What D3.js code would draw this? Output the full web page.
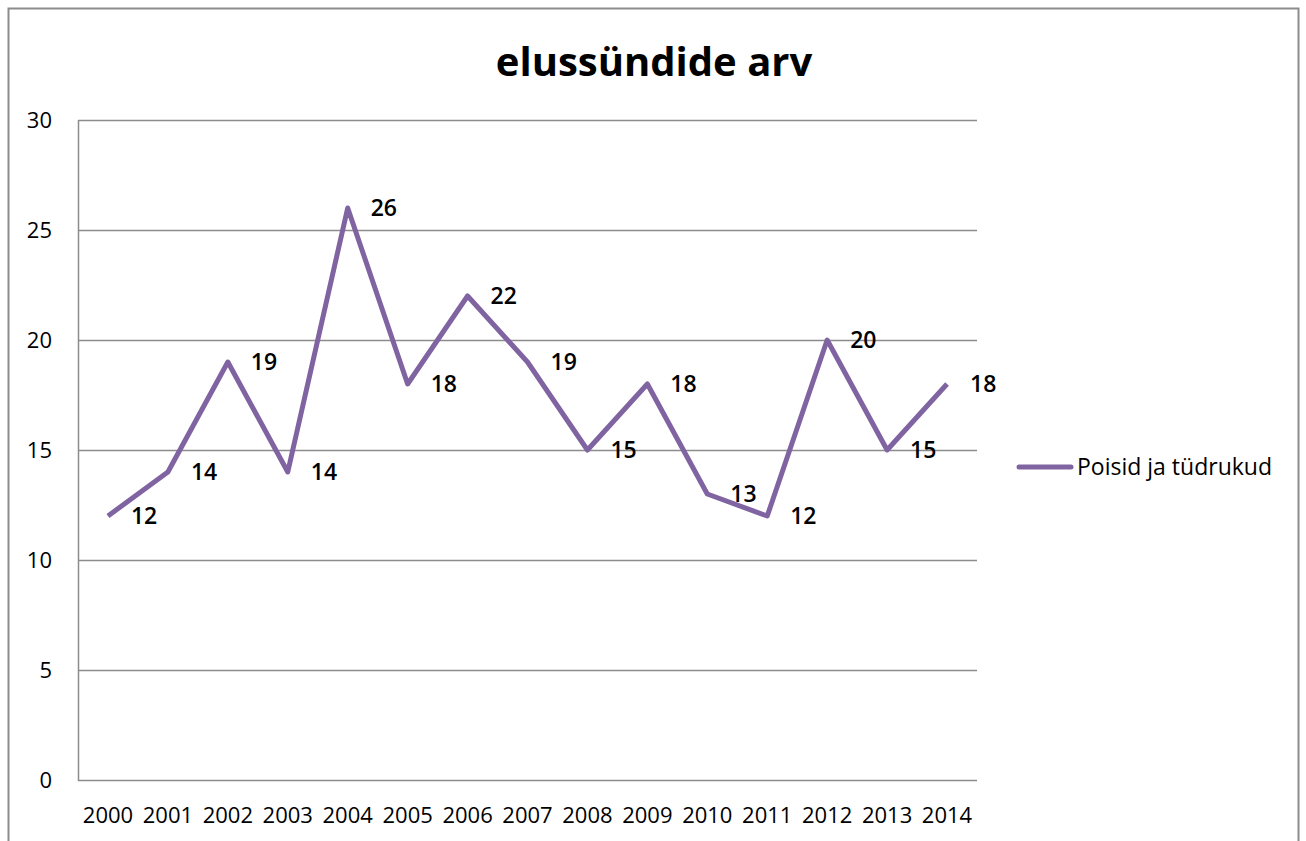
<!DOCTYPE html>
<html>
<head>
<meta charset="utf-8">
<script src="https://cdn.jsdelivr.net/npm/d3@7"></script>
<style>
  body { margin: 0; background: #fff; }
  svg text { font-family: "Open Sans", "Liberation Sans", sans-serif; }
</style>
</head>
<body>
<div id="chart"></div>
<script>
var years = ["2000","2001","2002","2003","2004","2005","2006","2007","2008","2009","2010","2011","2012","2013","2014"];
var births = [12, 14, 19, 14, 26, 18, 22, 19, 15, 18, 13, 12, 20, 15, 18];
var yTicks = [0, 5, 10, 15, 20, 25, 30];
var seriesName = "Poisid ja tüdrukud";
var chartTitle = "elussündide arv";

var W = 1306, H = 841;
var plot = { left: 78, right: 977, top: 120, bottom: 780 };
var purple = "#8064A2";

var svg = d3.select("#chart").append("svg")
    .attr("width", W)
    .attr("height", H);

// outer frame
svg.append("path")
    .attr("d", "M8.5," + H + "V8.5H1298.5V" + H)
    .attr("fill", "none")
    .attr("stroke", "#8c8c8c")
    .attr("stroke-width", 2);

var x = d3.scalePoint().domain(years).range([plot.left, plot.right]).padding(0.5);
var y = d3.scaleLinear().domain([0, 30]).range([plot.bottom, plot.top]);

// gridlines
svg.append("g").selectAll("line")
    .data(yTicks)
  .enter().append("line")
    .attr("x1", plot.left).attr("x2", plot.right)
    .attr("y1", function(d){ return y(d) + 0.5; })
    .attr("y2", function(d){ return y(d) + 0.5; })
    .attr("stroke", "#8c8c8c")
    .attr("stroke-width", 1.5);

// y axis line
svg.append("line")
    .attr("x1", plot.left + 0.5).attr("x2", plot.left + 0.5)
    .attr("y1", plot.top).attr("y2", plot.bottom + 1)
    .attr("stroke", "#8c8c8c")
    .attr("stroke-width", 1.5);

// y tick labels
svg.append("g").selectAll("text")
    .data(yTicks)
  .enter().append("text")
    .attr("x", 52)
    .attr("y", function(d){ return y(d); })
    .attr("dy", "0.36em")
    .attr("text-anchor", "end")
    .style("font-size", "22px")
    .text(function(d){ return d; });

// x tick labels
svg.append("g").selectAll("text")
    .data(years)
  .enter().append("text")
    .attr("x", function(d){ return x(d); })
    .attr("y", 815)
    .attr("dy", "0.36em")
    .attr("text-anchor", "middle")
    .style("font-size", "22px")
    .text(function(d){ return d; });

// the line
var line = d3.line()
    .x(function(d, i){ return x(years[i]); })
    .y(function(d){ return y(d); });

svg.append("path")
    .datum(births)
    .attr("d", line)
    .attr("fill", "none")
    .attr("stroke", purple)
    .attr("stroke-width", 5)
    .attr("stroke-linejoin", "round");

// data labels
svg.append("g").selectAll("text")
    .data(births)
  .enter().append("text")
    .attr("x", function(d, i){ return x(years[i]) + 23; })
    .attr("y", function(d){ return y(d); })
    .attr("dy", "0.36em")
    .style("font-size", "23px")
    .style("font-weight", "600")
    .text(function(d){ return d; });

// title
svg.append("text")
    .attr("x", 654)
    .attr("y", 62)
    .attr("dy", "0.36em")
    .attr("text-anchor", "middle")
    .style("font-size", "40px")
    .style("font-weight", "bold")
    .text(chartTitle);

// legend
var legend = svg.append("g");
legend.append("line")
    .attr("x1", 1019).attr("x2", 1071)
    .attr("y1", 467).attr("y2", 467)
    .attr("stroke", purple)
    .attr("stroke-width", 5)
    .attr("stroke-linecap", "round");
legend.append("text")
    .attr("x", 1077)
    .attr("y", 467)
    .attr("dy", "0.36em")
    .style("font-size", "23px")
    .text(seriesName);
</script>
</body>
</html>
